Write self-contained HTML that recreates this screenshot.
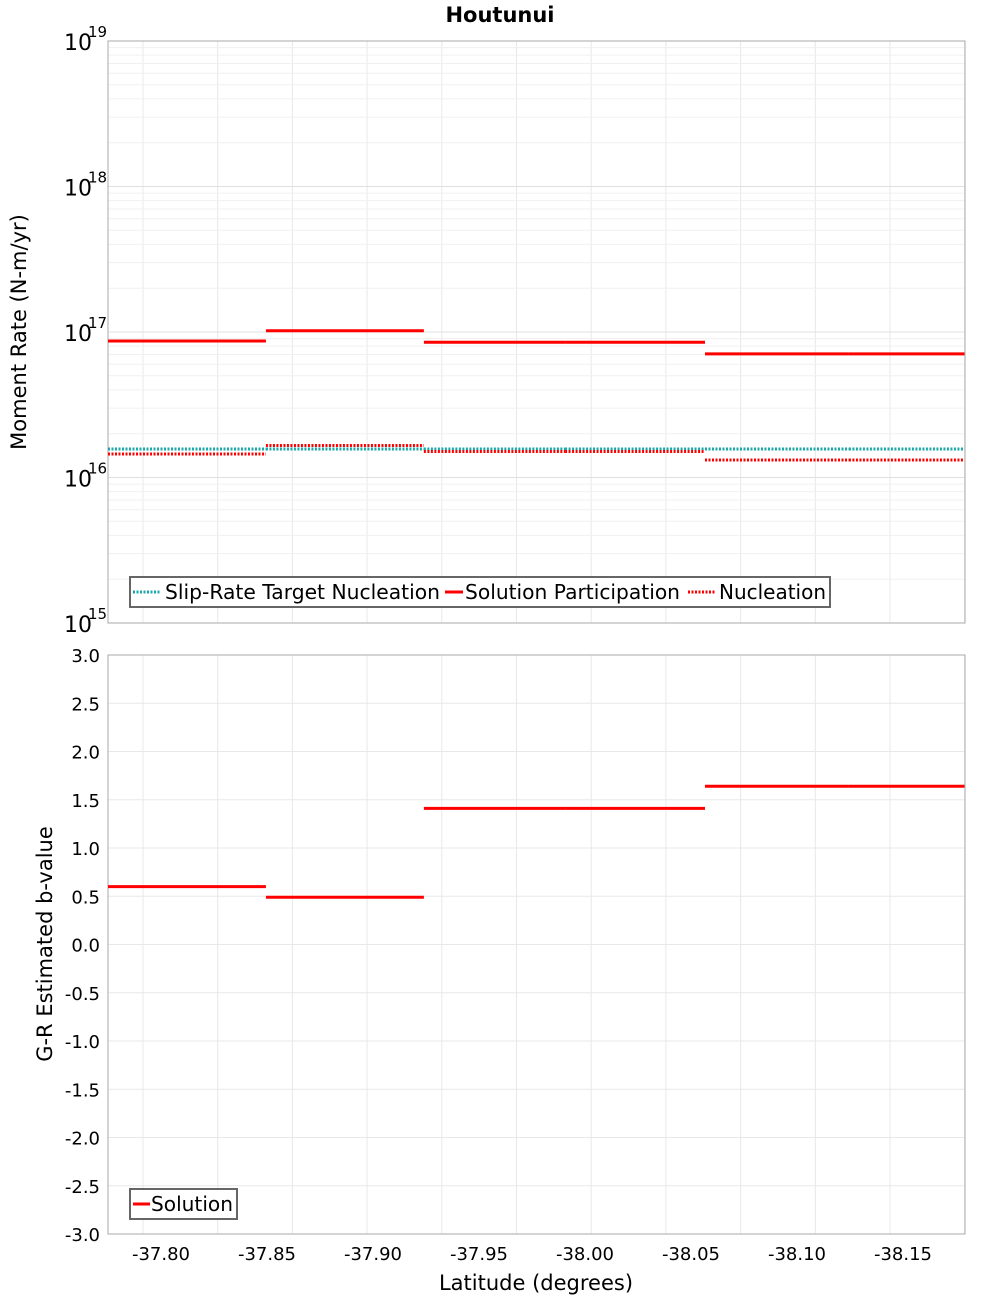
<!DOCTYPE html>
<html><head><meta charset="utf-8"><style>
body{margin:0;background:#fff;}
svg text{font-family:"DejaVu Sans","Liberation Sans",sans-serif;}
</style></head><body>
<svg width="1000" height="1300" xmlns="http://www.w3.org/2000/svg" id="svg">
<text x="500" y="22" text-anchor="middle" font-size="21" font-weight="bold">Houtunui</text>
<g id="gtop"></g>
<g id="gbot"></g>
<text transform="translate(26,332) rotate(-90)" text-anchor="middle" font-size="21">Moment Rate (N-m/yr)</text>
<text transform="translate(52,944) rotate(-90)" text-anchor="middle" font-size="21">G-R Estimated b-value</text>
<text x="536" y="1290" text-anchor="middle" font-size="21">Latitude (degrees)</text>
<g>
<rect x="130" y="577" width="700" height="30" fill="#fff" stroke="#666" stroke-width="2"/>
<line x1="133" y1="592" x2="160" y2="592" stroke="#1aa8a8" stroke-width="3" stroke-dasharray="2,1.5"/>
<text x="165" y="599" font-size="20" textLength="275" lengthAdjust="spacingAndGlyphs">Slip-Rate Target Nucleation</text>
<line x1="445" y1="592" x2="463" y2="592" stroke="#f00" stroke-width="3"/>
<text x="465" y="599" font-size="20" textLength="215" lengthAdjust="spacingAndGlyphs">Solution Participation</text>
<line x1="688" y1="592" x2="715" y2="592" stroke="#f00" stroke-width="3" stroke-dasharray="2,1.5"/>
<text x="719" y="599" font-size="20" textLength="107" lengthAdjust="spacingAndGlyphs">Nucleation</text>
</g>
<g>
<rect x="130" y="1189" width="107" height="30" fill="#fff" stroke="#666" stroke-width="2"/>
<line x1="133" y1="1204" x2="150" y2="1204" stroke="#f00" stroke-width="3"/>
<text x="151" y="1211" font-size="20" textLength="82" lengthAdjust="spacingAndGlyphs">Solution</text>
</g>
</svg>
<script>
const xTicks=[-37.80,-37.85,-37.90,-37.95,-38.00,-38.05,-38.10,-38.15];
const segStart=[-37.775,-37.8495,-37.924,-37.9906,-38.0566,-38.1245];
const segEnd=[-37.8495,-37.924,-37.9906,-38.0566,-38.1245,-38.179];
const participation=[8.67e16,1.02e17,8.5e16,8.5e16,7.07e16,7.07e16];
const nucleation=[1.45e16,1.66e16,1.51e16,1.51e16,1.32e16,1.32e16];
const target=[1.57e16,1.57e16,1.57e16,1.57e16,1.57e16,1.57e16];
const bValues=[0.6,0.49,1.41,1.41,1.64,1.64];
const bTicks=[-3,-2.5,-2,-1.5,-1,-0.5,0,0.5,1,1.5,2,2.5,3];
const logTicks=[15,16,17,18,19];
const NS="http://www.w3.org/2000/svg";
const L=108,R=965,T1=41,B1=623,T2=655,B2=1234;
const X=v=>161+(-37.80-v)*2120;
const Y1=v=>B1-(Math.log10(v)-15)*(B1-T1)/4;
const Y2=v=>B2-(v+3)*(B2-T2)/6;
function mk(p,tag,a,txt){const e=document.createElementNS(NS,tag);for(const k in a)e.setAttribute(k,a[k]);if(txt!==undefined)e.textContent=txt;p.appendChild(e);return e;}
const gTop=document.getElementById('gtop'),gBot=document.getElementById('gbot');
for(let gx=143;gx<R;gx+=74.7){
 let g1=mk(gTop,'line',{x1:gx,x2:gx,y1:T1,y2:B1,stroke:'#e8e8e8'});
 
 
 let g2=mk(gBot,'line',{x1:gx,x2:gx,y1:T2,y2:B2,stroke:'#e8e8e8'});
 
 
}
for(let d=15;d<19;d++)for(let m=1;m<10;m++){
 const y=Y1(m*Math.pow(10,d));
 const g=mk(gTop,'line',{x1:L,x2:R,y1:y,y2:y,stroke:m==1?'#e0e0e0':'#f0f0f0'});
 
 
}
bTicks.forEach(t=>{const y=Y2(t);
 const g=mk(gBot,'line',{x1:L,x2:R,y1:y,y2:y,stroke:'#e8e8e8'});
 
 
 const tx=mk(gBot,'text',{x:100,y:y+7,'text-anchor':'end','font-size':18},t.toFixed(1));
 
 
});
logTicks.forEach(d=>{const y=Y1(Math.pow(10,d));
 const tx=mk(gTop,'text',{x:64,y:y+9,'font-size':22},'10');
 
 
 const s=mk(gTop,'text',{x:88,y:y-4,'font-size':15},String(d));
 
 
});
xTicks.forEach(t=>{const tx=mk(gBot,'text',{x:X(t),y:1260,'text-anchor':'middle','font-size':18},t.toFixed(2));
 
 });
const f1=mk(gTop,'rect',{x:L,y:T1,width:R-L,height:B1-T1,fill:'none',stroke:'#aaa'});


const f2=mk(gBot,'rect',{x:L,y:T2,width:R-L,height:B2-T2,fill:'none',stroke:'#aaa'});


function seg(p,arr,Y,col,dash,name){arr.forEach((v,i)=>{
 const a={x1:X(segStart[i]),x2:X(segEnd[i]),y1:Y(v),y2:Y(v),stroke:col,'stroke-width':3};
 if(dash)a['stroke-dasharray']='2,1.5';
 const e=mk(p,'line',a);
 
 });}
seg(gTop,target,Y1,'#1aa8a8',true,'target-nucleation-segment');
seg(gTop,nucleation,Y1,'#f00',true,'nucleation-segment');
seg(gTop,participation,Y1,'#f00',false,'participation-segment');
seg(gBot,bValues,Y2,'#f00',false,'b-value-segment');
</script>
</body></html>
